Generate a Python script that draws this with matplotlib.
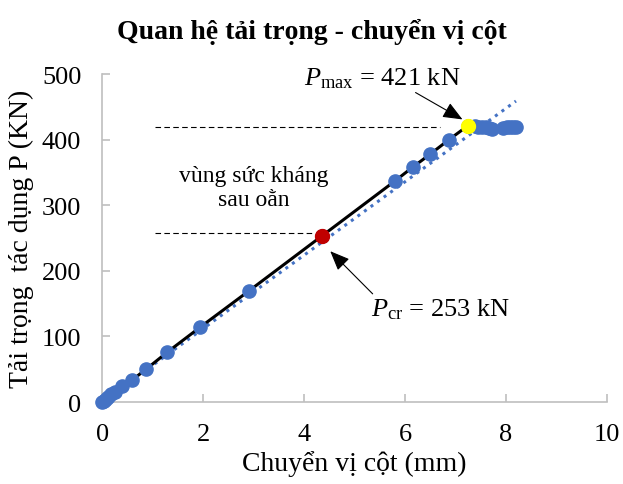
import matplotlib
matplotlib.use("Agg")
import matplotlib.pyplot as plt
import numpy as np

plt.rcParams['font.family'] = ['Liberation Serif', 'DejaVu Serif']
plt.rcParams['mathtext.fontset'] = 'custom'
plt.rcParams['mathtext.rm'] = 'Liberation Serif'
plt.rcParams['mathtext.it'] = 'Liberation Serif:italic'

# test data (displacement mm, load kN)
disp = [0.0, 0.03, 0.07, 0.12, 0.18, 0.26, 0.4, 0.6, 0.87, 1.29, 1.94, 2.9,
        4.35, 5.8, 6.15, 6.5, 6.87, 7.24]
load = [0, 2, 5, 8, 12, 16, 24, 34, 50, 76, 114, 169,
        253, 337, 358, 378, 400, 421]
disp_post = [7.38, 7.45, 7.52, 7.6, 7.66, 7.72, 7.95, 8.02, 8.09, 8.15, 8.2]
load_post = [421, 420, 420, 419, 418, 417, 418, 419, 419, 420, 420]

# linear trend
trend_x = [0.0, 8.2]
trend_y = [0.0, 459.0]

p_cr = (4.35, 253)
p_max = (7.24, 421)

fig = plt.figure(figsize=(6.23, 4.85), dpi=100)
ax = fig.add_axes([0.164, 0.169, 0.81, 0.676])

ax.plot(trend_x, trend_y, ':', color='#4472C4', lw=2.2, zorder=2)
ax.plot(disp, load, '-', color='black', lw=2.2, zorder=3)
ax.plot(disp + disp_post, load + load_post, 'o', color='#4472C4', ms=9.5,
        zorder=4, clip_on=False)
ax.plot(*p_cr, 'o', color='#C00000', ms=10, zorder=5)
ax.plot(*p_max, 'o', color='#FFFF00', ms=10, zorder=5)

ax.plot([1.05, 6.7], [419, 419], '--', color='black', lw=0.8, dashes=(5, 3))
ax.plot([1.05, 4.2], [258, 258], '--', color='black', lw=0.8, dashes=(5, 3))

arrow = dict(arrowstyle='-|>,head_length=1.2,head_width=0.5',
             color='black', lw=0.8, shrinkA=0, shrinkB=0)
ax.text(5.56, 495, r'$P_{\rm max}$ = 421 kN', fontsize=19, ha='center', va='center')
ax.annotate('', xy=(7.14, 431), xytext=(6.21, 472), arrowprops=arrow)
ax.text(6.7, 143, r'$P_{\rm cr}$ = 253 kN', fontsize=19, ha='center', va='center')
ax.annotate('', xy=(4.52, 230), xytext=(5.36, 165), arrowprops=arrow)
ax.text(3.0, 327, 'vùng sức kháng\nsau oằn', fontsize=17, ha='center',
        va='center', linespacing=1.2)

ax.set_xlim(0, 10)
ax.set_ylim(0, 500)
ax.set_xticks(np.arange(0, 11, 2))
ax.set_yticks(np.arange(0, 501, 100))
for s in ['top', 'right']:
    ax.spines[s].set_visible(False)
for s in ['left', 'bottom']:
    ax.spines[s].set_color('#BFBFBF')
    ax.spines[s].set_linewidth(1.2)
ax.tick_params(direction='in', length=6, color='#BFBFBF', width=1.2,
               labelsize=19, pad=15)

ax.set_xlabel('Chuyển vị cột (mm)', fontsize=20, labelpad=4)
ax.set_ylabel('Tải trọng  tác dụng P (KN)', fontsize=20, labelpad=6)
fig.suptitle('Quan hệ tải trọng - chuyển vị cột', fontsize=20,
             fontweight='bold', y=0.96)

fig.savefig('out.png', dpi=100)
